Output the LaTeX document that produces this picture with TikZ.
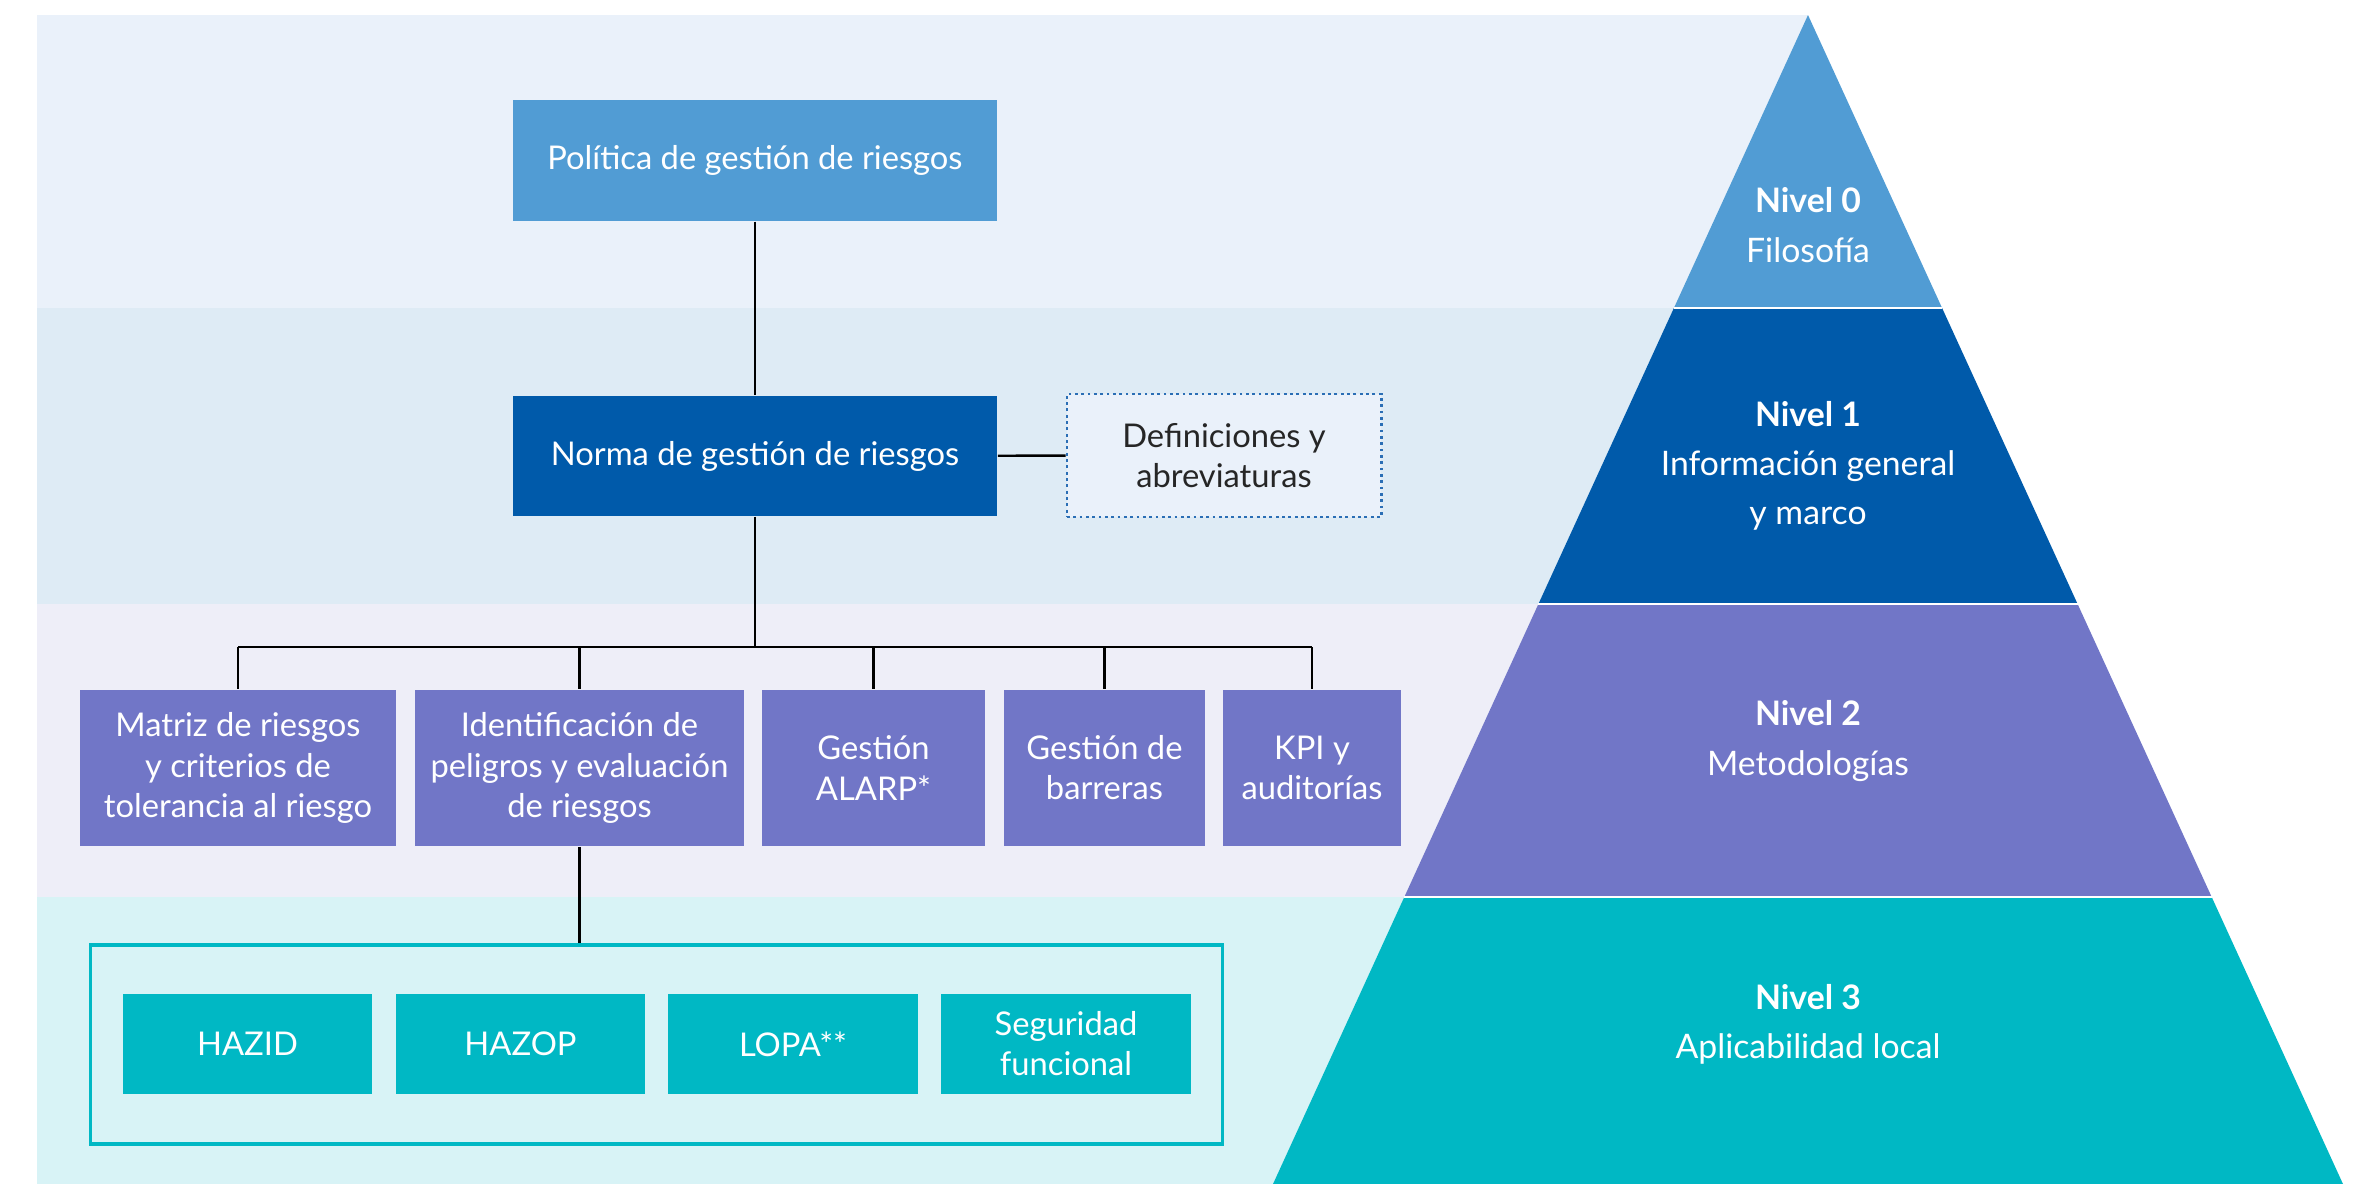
\documentclass[tikz,border=0pt]{standalone}
\usepackage{fontspec}
\setmainfont{Lato}
\usepackage{xcolor}
\usetikzlibrary{positioning}
\definecolor{nivel0}{HTML}{519CD4}
\definecolor{nivel1}{HTML}{005AAA}
\definecolor{nivel2}{HTML}{7176C7}
\definecolor{nivel3}{HTML}{00B8C4}
\definecolor{banda0}{HTML}{EAF1FA}
\definecolor{banda1}{HTML}{DEEBF5}
\definecolor{banda2}{HTML}{EEEEF8}
\definecolor{banda3}{HTML}{D8F3F6}
\definecolor{puntos}{HTML}{2A6EB5}

\begin{document}
\begin{tikzpicture}[x=0.01cm, y=-0.01cm,
      box/.style={rectangle, inner sep=0pt, align=center, text=white, font=\fontsize{9.3}{11.4}\selectfont},
      type-policy/.style={box, fill=nivel0, minimum width=4.84cm, minimum height=1.21cm},
      type-norm/.style={box, fill=nivel1, minimum width=4.84cm, minimum height=1.2cm},
      type-defs/.style={box, draw=puntos, densely dotted, line width=0.8pt, fill=banda0, text=black!85, minimum width=3.14cm, minimum height=1.23cm},
      type-method/.style={box, fill=nivel2, minimum height=1.56cm},
      type-local/.style={box, fill=nivel3, minimum width=2.49cm, minimum height=0.99cm},
      type-group/.style={rectangle, draw=nivel3, line width=0.9pt, fill=banda3, minimum width=11.31cm, minimum height=1.99cm},
      level-label/.style={align=center, text=white, font=\fontsize{9.6}{14}\selectfont},
      link/.style={line width=0.7pt}
    ]
      \useasboundingbox (0,0) rectangle (2368,1184);
      \coordinate (apex) at (1808,15);
      \coordinate (l1) at (1673.9,308);
      \coordinate (r1) at (1942.1,308);
      \coordinate (l2) at (1538.4,604);
      \coordinate (r2) at (2077.6,604);
      \coordinate (l3) at (1404.3,897);
      \coordinate (r3) at (2211.7,897);
      \coordinate (l4) at (1273,1184);
      \coordinate (r4) at (2343,1184);
      % bandas
      \fill[banda0] (37,15) -- (apex) -- (l1) -- (37,308) -- cycle;
      \fill[banda1] (37,308) -- (l1) -- (l2) -- (37,604) -- cycle;
      \fill[banda2] (37,604) -- (l2) -- (l3) -- (37,897) -- cycle;
      \fill[banda3] (37,897) -- (l3) -- (l4) -- (37,1184) -- cycle;
      % piramide
      \fill[nivel0] (apex) -- (r1) -- (l1) -- cycle;
      \fill[nivel1] (l1) -- (r1) -- (r2) -- (l2) -- cycle;
      \fill[nivel2] (l2) -- (r2) -- (r3) -- (l3) -- cycle;
      \fill[nivel3] (l3) -- (r3) -- (r4) -- (l4) -- cycle;
      \draw[white, line width=0.6pt] (l1) -- (r1) (l2) -- (r2) (l3) -- (r3);
      \node[level-label] (n0) at (1808,225) {\textbf{Nivel 0}\\Filosofía};
      \node[level-label] (n1) at (1808,466) {\textbf{Nivel 1}\\Información general\\y marco};
      \node[level-label] (n2) at (1808,741) {\textbf{Nivel 2}\\Metodologías};
      \node[level-label] (n3) at (1808,1024) {\textbf{Nivel 3}\\Aplicabilidad local};
      % organigrama
      \node[type-policy] (politica) at (755,160.5) {Política de gestión de riesgos};
      \node[type-norm] (norma) at (755,456) {Norma de gestión de riesgos};
      \node[type-defs] (defs) at (1224,455.5) {Definiciones y\\abreviaturas};
      \node[type-method, minimum width=3.16cm] (matriz) at (238,768) {Matriz de riesgos\\y criterios de\\tolerancia al riesgo};
      \node[type-method, minimum width=3.29cm] (identificacion) at (579.5,768) {Identificación de\\peligros y evaluación\\de riesgos};
      \node[type-method, minimum width=2.23cm] (alarp) at (873.5,768) {Gestión\\ALARP*};
      \node[type-method, minimum width=2.01cm] (barreras) at (1104.5,768) {Gestión de\\barreras};
      \node[type-method, minimum width=1.78cm] (kpi) at (1312,768) {KPI y\\auditorías};
      \node[type-group] (locales) at (656.5,1044.5) {};
      \node[type-local] (hazid) at (247.5,1044) {HAZID};
      \node[type-local] (hazop) at (520.5,1044) {HAZOP};
      \node[type-local] (lopa) at (793,1044) {LOPA**};
      \node[type-local] (seguridad) at (1066,1044) {Seguridad\\funcional};
      \coordinate (bus) at (755,647);
      \draw[link] (politica) -- (norma);
      \draw[link] (norma) -- (defs);
      \draw[link] (norma) -- (bus);
      \draw[link] (bus -| matriz.north) -- (bus -| kpi.north);
      \foreach \n in {matriz,identificacion,alarp,barreras,kpi}
        \draw[link] (bus -| \n.north) -- (\n.north);
      \draw[link] (identificacion) -- (identificacion.south |- locales.north);
    \end{tikzpicture}
\end{document}
